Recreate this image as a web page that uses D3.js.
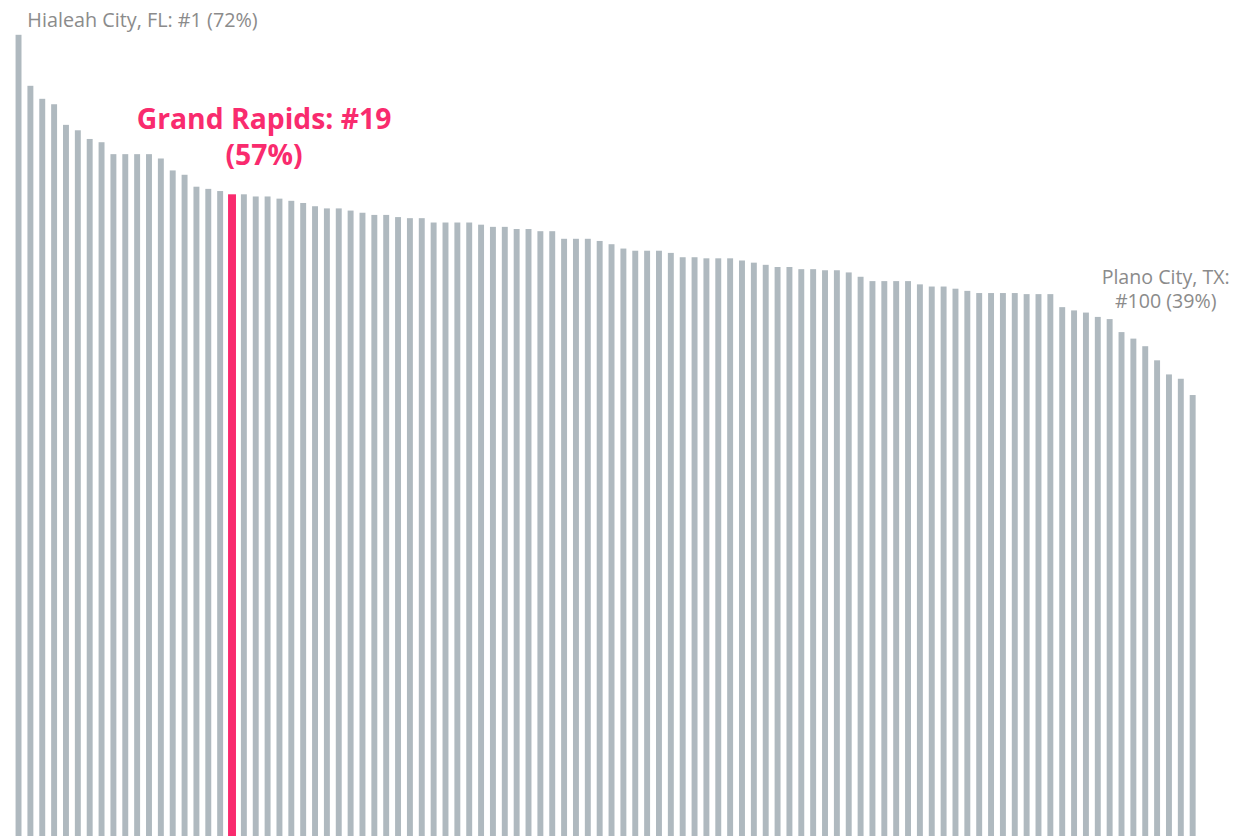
<!DOCTYPE html>
<html>
<head>
<meta charset="utf-8">
<script src="https://cdn.jsdelivr.net/npm/d3@7"></script>
<style>
  html, body { margin: 0; padding: 0; background: #ffffff; overflow: hidden; }
  svg { display: block; }
</style>
</head>
<body>
<svg id="chart" width="1250" height="836"></svg>
<script>
// Rank 1..100 (cities ordered by share)
const ranks = d3.range(1, 101);
// Share (%) per rank
const values = [
  72.0, 67.3, 66.1, 65.6, 63.7, 63.2, 62.4, 62.1, 61.0, 61.0,
  61.0, 61.0, 60.6, 59.5, 59.1, 58.0, 57.8, 57.6, 57.3, 57.3,
  57.1, 57.1, 56.9, 56.7, 56.5, 56.2, 56.0, 56.0, 55.8, 55.6,
  55.4, 55.4, 55.2, 55.1, 55.1, 54.7, 54.7, 54.7, 54.7, 54.5,
  54.3, 54.3, 54.1, 54.1, 53.9, 53.9, 53.2, 53.2, 53.2, 53.0,
  52.7, 52.3, 52.1, 52.1, 52.1, 51.9, 51.5, 51.5, 51.4, 51.4,
  51.4, 51.2, 51.0, 50.8, 50.6, 50.6, 50.4, 50.4, 50.3, 50.3,
  50.1, 49.7, 49.3, 49.3, 49.3, 49.3, 49.0, 48.8, 48.8, 48.6,
  48.4, 48.2, 48.2, 48.2, 48.2, 48.1, 48.1, 48.1, 46.9, 46.6,
  46.4, 46.0, 45.8, 44.6, 44.0, 43.3, 42.0, 40.7, 40.3, 38.8
];
const highlightRank = 19;
// Annotations
const annoRanks = [1, 19, 100];
const annoLines = [
  ["Hialeah City, FL: #1 (72%)"],
  ["Grand Rapids: #19", "(57%)"],
  ["Plano City, TX:", "#100 (39%)"]
];

const W = 1250, H = 836;
const svg = d3.select("#chart");

const x = d3.scaleBand()
  .domain(ranks)
  .range([12.6, 1198.6])
  .paddingInner(0.5)
  .paddingOuter(0.25);

// chart bottom lies below the visible frame (bars run off the bottom)
const y = d3.scaleLinear()
  .domain([-1.84, 72.0])
  .range([H, 34.8]);

const data = ranks.map((r, i) => ({ rank: r, value: values[i] }));

const GRAY = "#afb9bf";
const PINK = "#f92b6e";
const TEXTGRAY = "#8b8b8b";

svg.append("g")
  .selectAll("rect")
  .data(data)
  .join("rect")
  .attr("x", d => d.rank === highlightRank ? x(d.rank) - 1 : x(d.rank))
  .attr("width", d => d.rank === highlightRank ? x.bandwidth() + 2 : x.bandwidth())
  .attr("y", d => y(d.value))
  .attr("height", d => H - y(d.value))
  .attr("fill", d => d.rank === highlightRank ? PINK : GRAY);

const cx = r => x(r) + x.bandwidth() / 2;

// #1 label
svg.append("text")
  .attr("x", cx(annoRanks[0]) + 124)
  .attr("y", 27)
  .attr("text-anchor", "middle")
  .attr("font-family", "'Open Sans', sans-serif")
  .attr("font-size", 19.8)
  .attr("fill", TEXTGRAY)
  .text(annoLines[0][0]);

// highlight label
const hl = svg.append("text")
  .attr("text-anchor", "middle")
  .attr("font-family", "'Open Sans', sans-serif")
  .attr("font-weight", "bold")
  .attr("font-size", 28.3)
  .attr("fill", PINK);
annoLines[1].forEach((t, i) => {
  hl.append("tspan")
    .attr("x", cx(annoRanks[1]) + 32)
    .attr("y", 129 + i * 36)
    .text(t);
});

// #100 label
const pl = svg.append("text")
  .attr("text-anchor", "middle")
  .attr("font-family", "'Open Sans', sans-serif")
  .attr("font-size", 19.6)
  .attr("fill", TEXTGRAY);
annoLines[2].forEach((t, i) => {
  pl.append("tspan")
    .attr("x", cx(annoRanks[2]) - 27)
    .attr("y", 284 + i * 24)
    .text(t);
});
</script>
</body>
</html>
